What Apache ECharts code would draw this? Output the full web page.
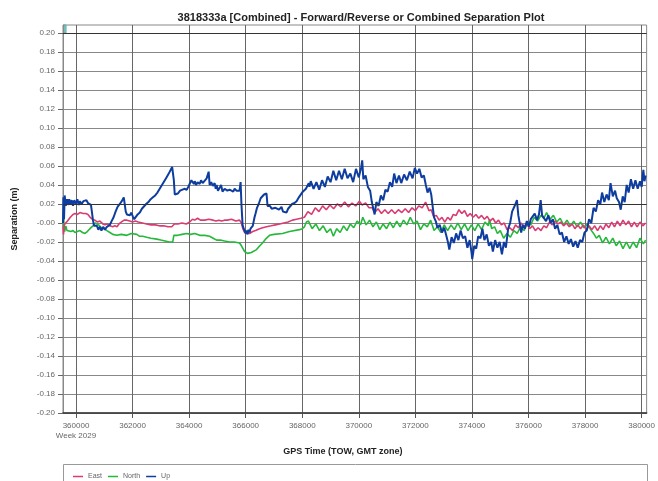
<!DOCTYPE html>
<html><head><meta charset="utf-8">
<script src="https://cdn.jsdelivr.net/npm/echarts@6/dist/echarts.min.js"></script>
<style>html,body{margin:0;padding:0;background:#fff}#c{width:658px;height:481px}</style>
</head><body><div id="c"></div>
<script>
var seriesNames = ['East', 'North', 'Up'];
var xTicks = [360000, 362000, 364000, 366000, 368000, 370000, 372000, 374000, 376000, 378000, 380000];
var yTicks = [-0.20,-0.18,-0.16,-0.14,-0.12,-0.10,-0.08,-0.06,-0.04,-0.02,0,0.02,0.04,0.06,0.08,0.10,0.12,0.14,0.16,0.18,0.20];

var upData = [
[359541,0.000],[359555,0.027],[359577,0.004],[359600,0.029],[359640,0.018],[359683,0.025],[359720,0.019],[359760,0.025],[359800,0.020],[359850,0.024],[359894,0.018],[359940,0.024],[360000,0.020],[360050,0.025],[360100,0.019],[360141,0.023],[360200,0.020],[360260,0.023],[360317,0.021],[360370,0.024],[360423,0.021],[360470,0.023],[360530,0.019],[360570,0.010],[360600,0.003],[360640,-0.003],[360690,-0.005],[360741,-0.003],[360790,-0.007],[360846,-0.004],[360900,-0.008],[360960,-0.004],[361023,-0.007],[361093,-0.004],[361150,-0.006],[361199,-0.002],[361260,0.002],[361330,0.006],[361400,0.012],[361470,0.017],[361550,0.020],[361620,0.023],[361690,0.027],[361728,0.026],[361760,0.012],[361799,0.009],[361850,0.011],[361905,0.008],[361950,0.011],[362010,0.007],[362060,0.004],[362110,0.006],[362180,0.009],[362257,0.011],[362330,0.015],[362400,0.017],[362480,0.020],[362560,0.022],[362640,0.025],[362720,0.027],[362800,0.029],[362880,0.032],[362960,0.036],[363040,0.040],[363120,0.044],[363200,0.048],[363280,0.052],[363350,0.056],[363400,0.059],[363421,0.058],[363460,0.045],
[363492,0.030],[363530,0.032],[363600,0.031],[363680,0.034],[363750,0.033],[363830,0.036],[363915,0.035],[363970,0.038],[364021,0.037],[364080,0.045],[364127,0.046],[364170,0.041],[364197,0.044],[364250,0.040],[364300,0.043],[364373,0.041],[364420,0.045],[364480,0.042],[364550,0.043],[364620,0.047],[364691,0.054],[364726,0.040],[364780,0.043],[364840,0.039],[364903,0.042],[364940,0.036],[364973,0.040],[365020,0.034],[365079,0.037],[365130,0.040],[365180,0.033],[365255,0.036],[365300,0.038],[365350,0.034],[365432,0.035],[365500,0.037],[365560,0.033],[365608,0.036],[365680,0.034],[365750,0.036],[365784,0.034],[365820,0.043],[365850,0.020],[365890,-0.002],[365930,-0.006],[365961,-0.004],[366000,-0.011],[366031,-0.008],[366066,-0.012],[366100,-0.007],[366137,-0.010],[366170,-0.006],[366208,-0.008],[366250,-0.003],[366313,0.006],[366349,0.010],[366400,0.016],[366460,0.020],[366530,0.026],[366600,0.027],[366650,0.030],[366700,0.028],[366737,0.031],[366772,0.018],[366807,0.016],[366860,0.018],[366920,0.015],[366980,0.017],[367050,0.016],[367120,0.018],[367180,0.014],[367266,0.017],[367320,0.012],[367372,0.013],[367442,0.011],[367500,0.015],[367570,0.016],[367640,0.020],[367724,0.021],[367800,0.023],[367880,0.027],[367950,0.029],[368020,0.033],[368077,0.031],[368130,0.036],[368183,0.035],[368230,0.042],[368253,0.038],
[368300,0.044],[368400,0.036],[368500,0.043],[368600,0.035],[368700,0.045],[368800,0.038],[368900,0.049],[369000,0.043],[369100,0.055],[369200,0.045],[369300,0.055],[369400,0.046],[369500,0.057],[369600,0.047],[369700,0.052],[369800,0.043],[369900,0.057],[370000,0.048],[370080,0.058],[370120,0.066],[370160,0.046],[370240,0.050],[370320,0.038],[370400,0.034],[370460,0.022],[370520,0.014],[370560,0.009],[370620,0.022],[370700,0.018],[370780,0.029],[370860,0.024],[370940,0.035],[371020,0.033],[371100,0.043],[371180,0.038],[371250,0.052],[371330,0.042],[371420,0.050],[371500,0.042],[371600,0.051],[371700,0.045],[371800,0.054],[371900,0.047],[371980,0.058],[372060,0.052],[372140,0.057],[372220,0.048],[372300,0.050],[372370,0.040],[372430,0.032],[372500,0.037],[372560,0.030],[372600,0.020],[372660,0.006],[372720,0.002],[372780,-0.005],[372860,-0.002],[372940,-0.010],[373020,-0.005],[373090,-0.013],[373150,-0.020],[373200,-0.028],[373280,-0.015],[373360,-0.021],[373440,-0.011],[373520,-0.018],[373600,-0.008],[373680,-0.016],[373760,-0.014],[373840,-0.026],[373920,-0.018],[373980,-0.030],[374010,-0.038],[374080,-0.024],[374150,-0.027],[374220,-0.014],[374300,-0.016],[374370,-0.006],[374440,-0.018],[374520,-0.012],[374600,-0.024],[374680,-0.020],[374740,-0.030],[374820,-0.018],[374900,-0.026],[374980,-0.020],[375060,-0.033],[375130,-0.020],[375200,-0.026],[375280,-0.006],[375350,0.000],[375420,0.012],[375480,0.010],[375540,0.020],[375590,0.024],[375640,0.008],[375700,-0.002],[375740,-0.010],[375800,-0.002],[375870,-0.006],[375940,0.002],[376010,-0.004],[376080,0.004],[376150,0.002],[376220,0.010],[376300,0.003],[376370,0.009],[376430,0.024],[376480,0.008],[376550,0.010],[376620,0.002],[376700,0.008],[376780,0.000],[376860,0.004],[376940,-0.006],[377020,-0.002],[377100,-0.012],[377180,-0.010],[377260,-0.020],[377340,-0.014],[377420,-0.022],[377500,-0.017],[377580,-0.025],[377660,-0.019],[377740,-0.026],[377820,-0.018],[377900,-0.020],[377980,-0.010],[378060,-0.008],[378140,0.004],[378220,0.000],[378300,0.016],[378380,0.012],[378460,0.024],[378540,0.020],[378600,0.032],[378680,0.022],[378760,0.030],[378840,0.024],[378900,0.042],[378980,0.028],[379060,0.034],[379120,0.026],[379200,0.022],[379260,0.014],[379330,0.028],[379400,0.022],[379470,0.040],[379540,0.032],[379620,0.046],[379700,0.036],[379780,0.045],[379860,0.036],[379940,0.044],[380000,0.038],[380060,0.056],[380100,0.044],[380141,0.050]
];

var eastData = [
[359541,-0.004],[359560,-0.012],[359580,-0.002],[359620,-0.003],[359700,0.002],[359800,0.006],[359894,0.009],[359965,0.010],[360050,0.009],[360141,0.011],[360250,0.010],[360350,0.010],[360423,0.009],[360500,0.006],[360580,0.004],[360670,0.003],[360760,0.001],[360846,0.002],[360950,-0.001],[361023,-0.002],[361100,-0.001],[361200,-0.003],[361300,-0.004],[361376,-0.003],[361450,-0.004],[361520,-0.001],[361600,0.001],[361700,0.003],[361800,0.003],[361900,0.002],[362000,0.001],[362100,0.002],[362200,0.001],[362350,0.000],[362500,-0.001],[362650,-0.002],[362800,-0.002],[362950,-0.003],[363100,-0.003],[363250,-0.004],[363386,-0.004],[363421,-0.003],[363480,-0.001],[363600,-0.001],[363750,0.000],[363900,-0.001],[364021,0.001],[364120,0.004],[364197,0.003],[364300,0.005],[364400,0.003],[364550,0.003],[364700,0.004],[364850,0.003],[364950,0.002],[365050,0.003],[365150,0.002],[365250,0.003],[365350,0.003],[365500,0.004],[365650,0.002],[365784,0.003],[365850,0.000],[365900,-0.006],[365961,-0.010],[366031,-0.009],[366137,-0.011],[366250,-0.009],[366350,-0.008],[366490,-0.006],[366600,-0.005],[366737,-0.004],[366900,-0.003],[367050,-0.002],[367200,-0.001],[367350,0.000],[367500,0.001],[367650,0.003],[367800,0.004],[367950,0.005],[368077,0.006],
[368200,0.012],[368330,0.009],[368460,0.016],[368590,0.012],[368720,0.018],[368850,0.014],[368980,0.019],[369110,0.015],[369240,0.020],[369370,0.017],[369500,0.022],[369630,0.017],[369760,0.021],[369890,0.018],[370020,0.023],[370120,0.019],[370240,0.021],[370360,0.016],[370480,0.016],[370560,0.011],[370680,0.015],[370800,0.010],[370920,0.014],[371040,0.010],[371160,0.014],[371280,0.010],[371400,0.014],[371520,0.011],[371640,0.015],[371760,0.011],[371880,0.016],[372000,0.013],[372120,0.018],[372240,0.016],[372360,0.022],[372420,0.023],[372480,0.013],[372560,0.014],[372640,0.007],[372740,0.008],[372840,0.003],[372940,0.006],[373040,0.001],[373140,0.006],[373240,0.003],[373340,0.009],[373440,0.008],[373540,0.014],[373640,0.010],[373740,0.013],[373840,0.007],[373940,0.010],[374040,0.006],[374140,0.009],[374240,0.005],[374340,0.008],[374440,0.004],[374540,0.007],[374640,0.002],[374740,0.005],[374840,0.000],[374940,0.003],[375040,-0.002],[375140,0.000],[375240,-0.007],[375340,-0.005],[375440,-0.008],[375540,-0.002],[375640,-0.005],[375740,0.000],[375840,-0.004],[375940,0.000],[376040,-0.006],[376140,-0.003],[376240,-0.008],[376340,-0.005],[376440,-0.008],[376540,-0.003],[376640,-0.005],[376740,0.001],[376840,-0.002],[376940,0.002],[377040,-0.001],[377140,0.001],[377240,-0.003],[377340,0.000],[377440,-0.004],[377540,-0.001],[377640,-0.006],[377740,-0.002],[377840,-0.006],[377940,-0.002],[378040,-0.007],[378140,-0.003],[378240,-0.007],[378340,-0.003],[378440,-0.008],[378540,-0.003],[378640,-0.007],[378740,-0.001],[378840,-0.005],[378940,0.001],[379040,-0.004],[379140,0.002],[379240,-0.003],[379340,0.003],[379440,-0.002],[379540,0.002],[379640,-0.004],[379740,0.001],[379840,-0.004],[379940,0.001],[380040,-0.003],[380141,0.000]
];

var northData = [
[359541,-0.004],[359560,0.012],[359580,-0.006],[359600,-0.009],[359640,-0.003],[359683,-0.008],[359750,-0.007],[359820,-0.009],[359894,-0.008],[359965,-0.010],[360050,-0.009],[360141,-0.008],[360230,-0.010],[360317,-0.011],[360400,-0.009],[360494,-0.006],[360600,-0.003],[360680,0.000],[360741,0.001],[360800,-0.002],[360900,-0.005],[361000,-0.006],[361093,-0.008],[361200,-0.010],[361300,-0.012],[361446,-0.013],[361600,-0.012],[361799,-0.013],[361950,-0.011],[362010,-0.011],[362150,-0.012],[362250,-0.014],[362363,-0.014],[362500,-0.015],[362650,-0.016],[362857,-0.017],[363000,-0.018],[363150,-0.019],[363300,-0.020],[363421,-0.020],[363460,-0.013],[363600,-0.013],[363750,-0.012],[363915,-0.011],[364050,-0.012],[364200,-0.011],[364373,-0.013],[364550,-0.013],[364726,-0.014],[364850,-0.016],[364973,-0.018],[365100,-0.018],[365255,-0.019],[365432,-0.020],[365600,-0.020],[365784,-0.021],[365850,-0.024],[365961,-0.030],[366066,-0.032],[366200,-0.031],[366384,-0.028],[366500,-0.024],[366596,-0.021],[366700,-0.017],[366843,-0.013],[367000,-0.012],[367301,-0.011],[367550,-0.009],[367901,-0.007],[368000,-0.006],[368077,-0.004],[368147,0.001],
[368220,0.002],[368350,-0.006],[368480,-0.001],[368610,-0.008],[368740,-0.003],[368870,-0.010],[369000,-0.006],[369100,-0.014],[369220,-0.006],[369340,-0.010],[369460,-0.003],[369580,-0.008],[369700,-0.001],[369820,-0.005],[369940,0.002],[370060,-0.002],[370140,0.006],[370260,-0.002],[370380,0.003],[370500,-0.004],[370620,0.001],[370740,-0.007],[370860,-0.001],[370980,-0.006],[371100,0.001],[371220,-0.005],[371340,0.002],[371460,-0.004],[371580,0.003],[371700,-0.002],[371820,0.006],[371940,-0.001],[372060,0.002],[372180,-0.007],[372300,-0.001],[372420,-0.004],[372540,0.003],[372660,-0.008],[372780,-0.004],[372900,-0.010],[373020,-0.002],[373140,-0.008],[373260,-0.002],[373380,-0.007],[373500,0.000],[373620,-0.007],[373740,-0.001],[373860,-0.008],[373980,-0.002],[374100,-0.008],[374220,-0.001],[374340,-0.007],[374460,0.001],[374580,-0.003],[374620,0.004],[374700,-0.006],[374800,-0.004],[374900,-0.011],[375000,-0.008],[375120,-0.016],[375240,-0.011],[375360,-0.015],[375480,-0.008],[375600,-0.011],[375720,-0.004],[375840,-0.008],[375960,0.000],[376080,-0.002],[376200,0.006],[376320,0.002],[376440,0.008],[376540,0.005],[376640,0.011],[376760,0.004],[376880,0.008],[377000,0.001],[377120,0.005],[377240,-0.002],[377360,0.003],[377480,-0.003],[377600,0.002],[377720,-0.004],[377840,0.001],[377960,-0.005],[378080,-0.001],[378200,-0.007],[378300,-0.011],[378400,-0.016],[378500,-0.013],[378620,-0.021],[378740,-0.015],[378860,-0.022],[378980,-0.016],[379100,-0.024],[379220,-0.019],[379340,-0.027],[379460,-0.020],[379580,-0.027],[379700,-0.020],[379820,-0.026],[379940,-0.016],[380060,-0.022],[380141,-0.018]
];

var FONT = 'Liberation Sans, Arial, sans-serif';
var chart = echarts.init(document.getElementById('c'), null, {renderer: 'canvas'});
chart.setOption({
  animation: false,
  backgroundColor: '#ffffff',
  title: {
    text: '3818333a [Combined] - Forward/Reverse or Combined Separation Plot',
    left: 356, top: 7, textAlign: 'center',
    textStyle: {fontFamily: FONT, fontSize: 11, fontWeight: 'bold', color: '#222'}
  },
  legend: {
    data: seriesNames, left: 68, top: 468, itemWidth: 10, itemHeight: 1.5, itemGap: 6,
    icon: 'rect', textStyle: {fontFamily: FONT, fontSize: 7, color: '#666'}
  },
  grid: {left: 63, right: 10, top: 25, bottom: 68, show: true, borderColor: '#888', borderWidth: 1},
  xAxis: {
    type: 'value', min: 359541, max: 380176,
    name: 'GPS Time (TOW, GMT zone)', nameLocation: 'middle', nameGap: 34,
    nameTextStyle: {fontFamily: FONT, fontSize: 9, fontWeight: 'bold', color: '#222', padding: [0, 24, 0, 0]},
    axisLine: {show: true, onZero: false, lineStyle: {color: '#333', width: 1.5}},
    axisTick: {show: true, customValues: xTicks, length: 5, lineStyle: {color: '#555'}},
    axisLabel: {customValues: xTicks, margin: 8, fontFamily: FONT, fontSize: 8, color: '#666', lineHeight: 10,
      formatter: function (v) { return v === 360000 ? v + '\nWeek 2029' : String(v); }},
    splitLine: {show: true, lineStyle: {color: '#666', width: 1}}
  },
  yAxis: {
    type: 'value', min: -0.2, max: 0.2084,
    name: 'Separation (m)', nameLocation: 'middle', nameGap: 44,
    nameTextStyle: {fontFamily: FONT, fontSize: 9, fontWeight: 'bold', color: '#222'},
    axisLine: {show: true, onZero: false, lineStyle: {color: '#888'}},
    axisTick: {show: true, customValues: yTicks, length: 5, lineStyle: {color: '#666'}},
    axisLabel: {customValues: yTicks, margin: 8, fontFamily: FONT, fontSize: 8, color: '#666',
      formatter: function (v) { return Math.abs(v) < 1e-9 ? '-0.00' : v.toFixed(2); }},
    splitLine: {show: true, lineStyle: {color: '#888', width: 1}}
  },
  graphic: [
    {type: 'rect', shape: {x: 63.5, y: 464.5, width: 584, height: 30}, style: {fill: 'none', stroke: '#999', lineWidth: 1}, silent: true},
    {type: 'rect', shape: {x: 64, y: 25, width: 2, height: 8}, style: {fill: '#9cc', stroke: '#5aa', lineWidth: 1}, silent: true}
  ],
  series: [
    {name: 'East', type: 'line', data: eastData, showSymbol: false, symbol: 'none', lineStyle: {color: '#d93c72', width: 1.6}, itemStyle: {color: '#d93c72'}, z: 3},
    {name: 'North', type: 'line', data: northData, showSymbol: false, symbol: 'none', lineStyle: {color: '#25b83a', width: 1.6}, itemStyle: {color: '#25b83a'}, z: 2},
    {name: 'Up', type: 'line', data: upData, showSymbol: false, symbol: 'none', lineStyle: {color: '#0e3d9f', width: 2}, itemStyle: {color: '#0e3d9f'}, z: 4,
      markLine: {silent: true, symbol: 'none', label: {show: false}, lineStyle: {color: '#333', width: 1, type: 'solid'}, data: [{yAxis: 0.02}, {yAxis: 0.2}]}}
  ]
});
</script></body></html>
